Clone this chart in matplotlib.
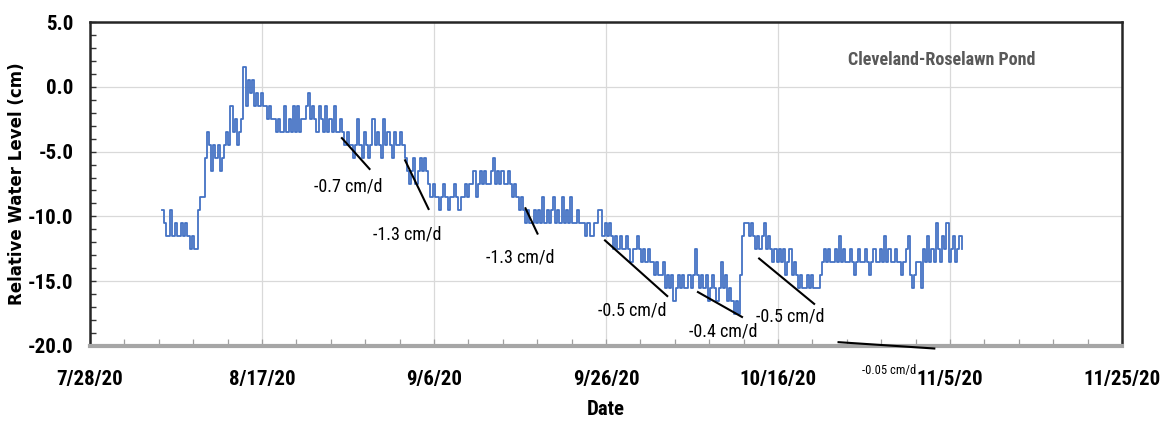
import matplotlib
matplotlib.use("Agg")
import matplotlib.pyplot as plt
import matplotlib.dates as mdates
from matplotlib import font_manager
from matplotlib.ticker import FixedLocator, FuncFormatter, MultipleLocator
import pandas as pd


def pick_font(*names):
    available = {f.name for f in font_manager.fontManager.ttflist}
    for name in names:
        if name in available:
            return name
    return "DejaVu Sans"


NARROW = pick_font("Liberation Sans Narrow", "Roboto Condensed", "Open Sans", "Lato")

# ---- water level record (cm), 6-hourly readings starting 8/5/20 08:00 ----
start_time = "2020-08-05 08:00"
step_hours = 6
water_level = [
    -9.5, -10.5, -11.5, -11.5,     # 8/5
    -9.5, -11.5, -10.5, -11.5,     # 8/6
    -11.5, -10.5, -11.5, -10.5,    # 8/7
    -11.5, -12.5, -11.5, -12.5,    # 8/8
    -12.5, -9.5, -8.5, -8.5,       # 8/9
    -5.5, -3.5, -4.5, -6.5,        # 8/10
    -4.5, -5.5, -4.5, -6.5,        # 8/11
    -5.5, -4.5, -3.5, -4.5,        # 8/12
    -1.5, -3.5, -2.5, -4.5,        # 8/13
    -3.5, -2.5, 1.5, -1.5,         # 8/14
    0.5, -0.5, 0.5, -1.5,          # 8/15
    -0.5, -1.5, -0.5, -1.5,        # 8/16
    -1.5, -2.5, -1.5, -2.5,        # 8/17
    -2.5, -3.5, -2.5, -3.5,        # 8/18
    -3.5, -1.5, -3.5, -2.5,        # 8/19
    -3.5, -1.5, -3.5, -1.5,        # 8/20
    -3.5, -2.5, -2.5, -1.5,        # 8/21
    -0.5, -2.5, -1.5, -2.5,        # 8/22
    -3.5, -1.5, -2.5, -3.5,        # 8/23
    -1.5, -3.5, -2.5, -3.5,        # 8/24
    -1.5, -3.5, -3.5, -2.5,        # 8/25
    -3.5, -4.5, -3.5, -4.5,        # 8/26
    -4.5, -5.5, -4.5, -2.5,        # 8/27
    -4.5, -5.5, -3.5, -4.5,        # 8/28
    -5.5, -4.5, -2.5, -4.5,        # 8/29
    -3.5, -4.5, -5.5, -2.5,        # 8/30
    -4.5, -3.5, -4.5, -5.5,        # 8/31
    -3.5, -4.5, -4.5, -3.5,        # 9/1
    -4.5, -5.5, -6.5, -7.5,        # 9/2
    -6.5, -5.5, -7.5, -6.5,        # 9/3
    -5.5, -6.5, -5.5, -6.5,        # 9/4
    -7.5, -8.5, -7.5, -8.5,        # 9/5
    -8.5, -9.5, -8.5, -7.5,        # 9/6
    -8.5, -9.5, -8.5, -8.5,        # 9/7
    -7.5, -8.5, -9.5, -8.5,        # 9/8
    -8.5, -7.5, -8.5, -7.5,        # 9/9
    -7.5, -6.5, -8.5, -7.5,        # 9/10
    -6.5, -7.5, -6.5, -7.5,        # 9/11
    -7.5, -6.5, -5.5, -7.5,        # 9/12
    -6.5, -7.5, -6.5, -7.5,        # 9/13
    -7.5, -6.5, -7.5, -8.5,        # 9/14
    -7.5, -8.5, -9.5, -8.5,        # 9/15
    -9.5, -10.5, -9.5, -10.5,      # 9/16
    -10.5, -9.5, -10.5, -9.5,      # 9/17
    -10.5, -8.5, -10.5, -9.5,      # 9/18
    -10.5, -9.5, -8.5, -10.5,      # 9/19
    -9.5, -10.5, -8.5, -10.5,      # 9/20
    -9.5, -10.5, -8.5, -10.5,      # 9/21
    -10.5, -9.5, -10.5, -10.5,     # 9/22
    -10.5, -11.5, -10.5, -11.5,    # 9/23
    -11.5, -10.5, -10.5, -9.5,     # 9/24
    -9.5, -11.5, -10.5, -11.5,     # 9/25
    -10.5, -11.5, -12.5, -11.5,    # 9/26
    -12.5, -11.5, -12.5, -12.5,    # 9/27
    -11.5, -12.5, -13.5, -12.5,    # 9/28
    -12.5, -11.5, -12.5, -13.5,    # 9/29
    -12.5, -13.5, -12.5, -13.5,    # 9/30
    -13.5, -14.5, -13.5, -14.5,    # 10/1
    -14.5, -13.5, -15.5, -14.5,    # 10/2
    -15.5, -14.5, -16.5, -15.5,    # 10/3
    -14.5, -15.5, -14.5, -15.5,    # 10/4
    -15.5, -14.5, -15.5, -14.5,    # 10/5
    -12.5, -14.5, -15.5, -14.5,    # 10/6
    -15.5, -14.5, -16.5, -15.5,    # 10/7
    -14.5, -15.5, -16.5, -15.5,    # 10/8
    -13.5, -15.5, -14.5, -16.5,    # 10/9
    -15.5, -16.5, -17.5, -16.5,    # 10/10
    -17.5, -14.5, -11.5, -10.5,    # 10/11
    -10.5, -11.5, -10.5, -11.5,    # 10/12
    -12.5, -11.5, -12.5, -11.5,    # 10/13
    -10.5, -12.5, -11.5, -12.5,    # 10/14
    -13.5, -12.5, -13.5, -12.5,    # 10/15
    -13.5, -12.5, -14.5, -13.5,    # 10/16
    -12.5, -14.5, -13.5, -14.5,    # 10/17
    -15.5, -14.5, -15.5, -15.5,    # 10/18
    -14.5, -15.5, -14.5, -15.5,    # 10/19
    -15.5, -15.5, -14.5, -13.5,    # 10/20
    -12.5, -13.5, -12.5, -13.5,    # 10/21
    -13.5, -12.5, -13.5, -11.5,    # 10/22
    -13.5, -12.5, -13.5, -13.5,    # 10/23
    -12.5, -13.5, -14.5, -13.5,    # 10/24
    -12.5, -13.5, -13.5, -12.5,    # 10/25
    -13.5, -14.5, -13.5, -12.5,    # 10/26
    -13.5, -13.5, -12.5, -13.5,    # 10/27
    -11.5, -13.5, -12.5, -13.5,    # 10/28
    -13.5, -12.5, -13.5, -13.5,    # 10/29
    -14.5, -13.5, -12.5, -11.5,    # 10/30
    -14.5, -15.5, -14.5, -13.5,    # 10/31
    -13.5, -15.5, -12.5, -13.5,    # 11/1
    -11.5, -13.5, -12.5, -13.5,    # 11/2
    -10.5, -12.5, -13.5, -11.5,    # 11/3
    -12.5, -10.5, -13.5, -12.5,    # 11/4
    -11.5, -13.5, -12.5, -11.5,    # 11/5
    -12.5,                         # 11/6
]

# ---- recession trend segments: start/end time, start/end level, label ----
trend_start = ["2020-08-26 05:00", "2020-09-02 14:00", "2020-09-16 14:00",
               "2020-09-25 19:00", "2020-10-06 14:00", "2020-10-13 17:00",
               "2020-10-22 22:00"]
trend_end = ["2020-08-29 14:00", "2020-09-05 10:00", "2020-09-18 02:00",
             "2020-10-03 05:00", "2020-10-11 22:00", "2020-10-20 07:00",
             "2020-11-03 07:00"]
trend_start_level = [-3.9, -5.6, -9.3, -11.8, -15.8, -13.2, -19.7]
trend_end_level = [-6.4, -9.5, -11.4, -16.2, -17.8, -16.8, -20.2]
trend_labels = ["-0.7 cm/d", "-1.3 cm/d", "-1.3 cm/d", "-0.5 cm/d",
                "-0.4 cm/d", "-0.5 cm/d", "-0.05 cm/d"]
label_time = ["2020-08-27 00:00", "2020-09-02 22:00", "2020-09-16 00:00",
              "2020-09-29 00:00", "2020-10-09 14:00", "2020-10-17 10:00",
              "2020-10-28 22:00"]
label_level = [-7.7, -11.4, -13.2, -17.3, -18.9, -17.7, -21.9]

x_tick_dates = ["2020-07-28", "2020-08-17", "2020-09-06", "2020-09-26",
                "2020-10-16", "2020-11-05", "2020-11-25"]

# ---- figure ----
fig = plt.figure(figsize=(11.66, 4.29), dpi=100)
ax = fig.add_axes([0.0772, 0.1935, 0.8851, 0.7552])

times = pd.date_range(start_time, periods=len(water_level), freq=f"{step_hours}h")
ax.plot(times, water_level, drawstyle="steps-post", color="#4472C4", lw=1.3, zorder=3)

for t0, t1, v0, v1 in zip(trend_start, trend_end, trend_start_level, trend_end_level):
    ax.plot([pd.Timestamp(t0), pd.Timestamp(t1)], [v0, v1], color="black",
            lw=1.5, zorder=4, clip_on=False, solid_capstyle="butt")

for i, (t, v, s) in enumerate(zip(label_time, label_level, trend_labels)):
    size = 9 if i == len(trend_labels) - 1 else 13
    ax.text(pd.Timestamp(t), v, s, ha="center", va="center", fontsize=size,
            family=NARROW, color="black", clip_on=False, zorder=5)

# axes range
x0 = mdates.date2num(pd.Timestamp(x_tick_dates[0]))
x1 = mdates.date2num(pd.Timestamp(x_tick_dates[-1]))
ax.set_xlim(x0, x1)
ax.set_ylim(-20, 5)

major_x = [mdates.date2num(pd.Timestamp(d)) for d in x_tick_dates]
minor_x = [x0 + 4 * k for k in range(int((x1 - x0) / 4) + 1)]
ax.xaxis.set_major_locator(FixedLocator(major_x))
ax.xaxis.set_minor_locator(FixedLocator(minor_x))


def date_label(x, pos):
    d = mdates.num2date(x)
    return f"{d.month}/{d.day}/{d.year % 100}"


ax.xaxis.set_major_formatter(FuncFormatter(date_label))
ax.yaxis.set_major_locator(MultipleLocator(5))
ax.yaxis.set_minor_locator(MultipleLocator(1))
ax.yaxis.set_major_formatter(FuncFormatter(lambda v, p: f"{v:.1f}"))

ax.grid(True, which="major", color="#d9d9d9", lw=0.9, zorder=0)
ax.set_axisbelow(True)

ax.tick_params(axis="x", which="both", direction="in", length=5, width=0.9,
               color="#a0a0a0", pad=17)
ax.tick_params(axis="y", which="both", direction="in", length=4, width=1.0,
               color="#333333", pad=12)
for lab in ax.get_xticklabels() + ax.get_yticklabels():
    lab.set_family(NARROW)
    lab.set_fontweight("bold")
    lab.set_fontsize(15)

for side in ("top", "left", "right"):
    ax.spines[side].set_color("#262626")
    ax.spines[side].set_linewidth(1.8)
ax.spines["bottom"].set_color("#a6a6a6")
ax.spines["bottom"].set_linewidth(3)

ax.set_xlabel("Date", family=NARROW, fontweight="bold", fontsize=15, labelpad=8)
ax.set_ylabel("Relative Water Level (cm)", family="DejaVu Sans",
              fontweight="bold", fontsize=12)
ax.yaxis.set_label_coords(-0.062, 0.5)

ax.text(0.8256, 0.883, "Cleveland-Roselawn Pond", transform=ax.transAxes,
        ha="center", va="center", fontsize=13, family=NARROW,
        fontweight="bold", color="#595959")

fig.savefig("out.png", dpi=100, facecolor="white")
